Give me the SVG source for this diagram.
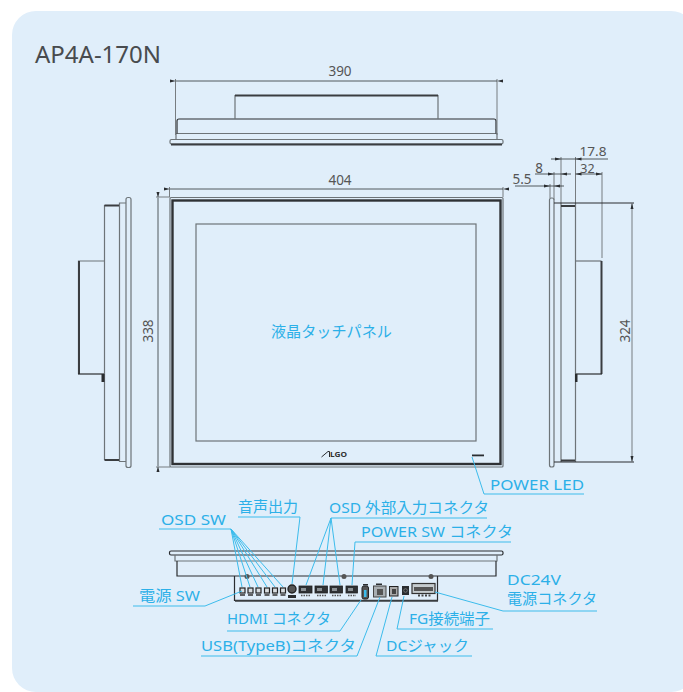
<svg xmlns="http://www.w3.org/2000/svg" width="683" height="692" viewBox="0 0 683 692">
<style>
text{font-family:"Noto Sans","Noto Sans CJK JP",sans-serif}
.lab{fill:#2cb0e8;font-size:15px}
.dim{fill:#555;font-size:13.500px}
.sm{font-size:12.500px}
.g{fill:none;stroke:#6d7478;stroke-width:1.200}
.k{fill:none;stroke:#2a2d30;stroke-width:1.200}
.kk{fill:none;stroke:#3a3d40;stroke-width:2}
.d{fill:none;stroke:#2f3235;stroke-width:.8}
.e{fill:none;stroke:#777c80;stroke-width:1}
.b{fill:none;stroke:#3cbcec;stroke-width:1}
.p{fill:#2a2d30}
.sw{fill:#d8dde0;stroke:#222;stroke-width:1.200}
.con{fill:#2e3134;stroke:#222;stroke-width:.8}
.ins{fill:#8a9094}
</style>
<defs>
<marker id="ah" viewBox="0 0 6 4" refX="0" refY="2" markerWidth="6" markerHeight="4" markerUnits="userSpaceOnUse" orient="auto-start-reverse"><path d="M0 2L6 .5V3.500Z" fill="#2a2d30"/></marker>
</defs>
<rect x="12" y="11" width="683" height="681" rx="24" fill="#e0eefa"/>
<text x="35" y="63" font-size="23" fill="#484b4e" textLength="126" lengthAdjust="spacingAndGlyphs">AP4A-170N</text>

<g id="top-view">
<rect class="g" x="170" y="139.500" width="333" height="4.500" rx="1.500"/>
<path class="kk" d="M171 144.500H502"/>
<path class="g" d="M176 139V133.500H497V139"/>
<path class="k" d="M177 133.500V121Q177 119 179 119H494Q496 119 496 121V133.500"/>
<path class="g" d="M235 119V95M438 119V95"/>
<path class="kk" d="M235 95.500H438"/>
</g>

<g id="front-view">
<rect class="g" x="170" y="197.500" width="333" height="269.500" rx="1"/>
<rect x="172.500" y="200.500" width="328" height="263.500" fill="none" stroke="#2f3235" stroke-width="2.400"/>
<rect class="g" x="196" y="224" width="280" height="217"/>
<text class="lab" x="271" y="337" textLength="121" lengthAdjust="spacingAndGlyphs">液晶タッチパネル</text>
<g id="logo"><path d="M321.500 457L328 451.500H329.500V457" fill="none" stroke="#2a2d30" stroke-width="1"/><text x="330" y="457" font-size="6.500" font-weight="700" fill="#333" textLength="17" lengthAdjust="spacingAndGlyphs">LGO</text></g>
<rect x="472" y="454.500" width="12" height="1.800" fill="#2a2d30"/>
</g>

<g id="left-view">
<rect class="g" x="126" y="197.500" width="5" height="270" rx="2"/>
<path class="g" d="M126 203H119.500V461.500H126"/>
<path class="g" d="M104.500 205V460"/>
<path class="kk" d="M104.500 205.500H119M104.500 460H119"/>
<path class="g" d="M104 261H78.500V374"/>
<path class="kk" d="M79 261V374"/>
<path class="k" d="M78 374H104"/>
<rect class="p" x="101.500" y="374" width="3" height="8"/>
</g>

<g id="right-view">
<rect class="g" x="549.500" y="198" width="4.500" height="269" rx="2"/>
<path class="g" d="M561 203V462M575.500 203V462"/>
<path class="kk" d="M561 206H575M561 460.500H575"/>
<path class="g" d="M575.500 261H601.500"/>
<path class="kk" d="M601.500 261V374"/>
<path class="k" d="M575.500 374H602"/>
<rect class="p" x="575" y="374" width="2.500" height="8"/>
</g>

<g id="bottom-view">
<rect class="k" x="169.500" y="551" width="333.500" height="4" rx="1.500"/>
<path class="g" d="M175 555V561H497V555"/>
<path class="k" d="M177 561V576H496V561"/>
<path class="k" d="M234.500 576V600.500H437.500V576"/>
<path class="kk" d="M235 600.800H438"/>
<g fill="#555"><circle cx="247" cy="576.500" r="2.500"/><circle cx="344" cy="576.500" r="2.500"/><circle cx="431" cy="576.500" r="2.500"/></g>
</g>

<g id="ports">
<rect class="sw" x="240" y="588" width="5" height="5"/><rect class="sw" x="248" y="588" width="5" height="5"/><rect class="sw" x="256" y="588" width="5" height="5"/><rect class="sw" x="264.500" y="588" width="5" height="5"/><rect class="sw" x="272.500" y="588" width="5" height="5"/><rect class="sw" x="280.500" y="588" width="5" height="5"/>
<path d="M240 595H245M248 595H253M256 595H261M264.500 595H269.500M272.500 595H277.500M280.500 595H285.500" stroke="#333" stroke-width="1.500"/>
<circle cx="292" cy="589" r="4" fill="#555" stroke="#222" stroke-width="1.400"/>
<rect class="p" x="288" y="595" width="8" height="3"/>
<rect class="con" x="299" y="586" width="13" height="7"/><rect class="con" x="315" y="586" width="12.500" height="7"/><rect class="con" x="330" y="586" width="12.500" height="7"/><rect class="con" x="346" y="586" width="11.500" height="7"/>
<rect class="ins" x="301" y="588" width="5" height="3"/><rect class="ins" x="317" y="588" width="5" height="3"/><rect class="ins" x="332" y="588" width="5" height="3"/><rect class="ins" x="348" y="588" width="5" height="3"/>
<path d="M301 595.500H310M317 595.500H326M332 595.500H341M348 595.500H356" stroke="#555" stroke-width="1.500" stroke-dasharray="1.500 1"/>
<rect x="362" y="586" width="6.500" height="13" rx="2" fill="#555" stroke="#222"/><rect x="364" y="590" width="2.500" height="7" fill="#3cbcec"/><rect class="p" x="363" y="584" width="5" height="1.500"/>
<rect x="373.500" y="586" width="12.500" height="11" fill="#a8aeb2" stroke="#444"/><rect x="377" y="589" width="6" height="6" fill="#555"/><rect class="p" x="376" y="583.500" width="6" height="1.500"/>
<rect x="389.500" y="586.500" width="8.500" height="9.500" fill="#aaa" stroke="#222"/><rect x="392" y="589" width="4" height="5" fill="#444"/>
<rect x="402" y="586" width="7" height="9" fill="#2a2d30"/><circle cx="405.500" cy="590.500" r="1.800" fill="none" stroke="#999" stroke-width=".6"/>
<rect x="412" y="583.500" width="23" height="10" fill="#c5cbce" stroke="#333" stroke-width="1.200"/><rect x="414" y="587" width="19" height="4" fill="#555"/><path d="M418 595.500H431" stroke="#444" stroke-width="2" stroke-dasharray="2 1.500"/>
</g>

<g id="dimensions">
<path class="e" d="M175.500 79V135M497 79V135M169.500 187V197M503 187V197M156 197H170M156 467H170"/>
<path class="d" d="M176 81H497" marker-start="url(#ah)" marker-end="url(#ah)"/>
<path class="d" d="M170 189H503" marker-start="url(#ah)" marker-end="url(#ah)"/>
<path class="d" d="M158 198V466" marker-start="url(#ah)" marker-end="url(#ah)"/>
<path class="e" d="M561 157V203M575.500 157V203M554 172V200M602 172V258M550 184V198"/>
<path class="d" d="M551 159H608M535 174H571M575.500 174H602M515 186H564"/>
<path class="p" d="M561 159l-6-1.500v3zM575.500 159l6-1.500v3zM554 174l-6-1.500v3zM561 174l6-1.500v3zM575.500 174l6-1.500v3zM602 174l-6-1.500v3zM550 186l-6-1.500v3zM554 186l6-1.500v3z"/>
<path class="k" d="M554 203H634M554 462H634"/>
<path class="e" d="M632 203V462"/>
<path class="p" d="M632 203l-1.500 6h3zM632 462l-1.500-6h3z"/>
<text class="dim" x="340" y="76" text-anchor="middle">390</text>
<text class="dim" x="340" y="184.500" text-anchor="middle">404</text>
<text class="dim" x="0" y="0" text-anchor="middle" transform="translate(153 331) rotate(-90)">338</text>
<text class="dim" x="0" y="0" text-anchor="middle" transform="translate(630 331) rotate(-90)">324</text>
<text class="dim sm" x="593" y="156" text-anchor="middle" textLength="27" lengthAdjust="spacingAndGlyphs">17.8</text>
<text class="dim" x="539" y="172.500" text-anchor="middle">8</text>
<text class="dim sm" x="587.500" y="173" text-anchor="middle">32</text>
<text class="dim" x="522" y="183.500" text-anchor="middle">5.5</text>
</g>

<g id="connectors">
<path class="b" d="M484 494H584M484 494L472 457"/>
<path class="b" d="M159 529H231M231 529L242 587M231 529L250 587M231 529L258 587M231 529L267 587M231 529L275 587M231 529L283 587"/>
<path class="b" d="M238 517H300L292 584"/>
<path class="b" d="M487 518H331M331 518L306 585M331 518L323 585M331 518L340 585"/>
<path class="b" d="M511 542H355L352 585"/>
<path class="b" d="M133 606H205L242 591"/>
<path class="b" d="M227 631H340L361 600"/>
<path class="b" d="M201 656H357L380 597"/>
<path class="b" d="M472 656H376L392 597"/>
<path class="b" d="M493 629H397L404 596"/>
<path class="b" d="M597 611H503L435 592"/>
</g>

<g id="labels">
<text class="lab" x="490" y="490" textLength="94" lengthAdjust="spacingAndGlyphs">POWER LED</text>
<text class="lab" x="161" y="525" textLength="65" lengthAdjust="spacingAndGlyphs">OSD SW</text>
<text class="lab" x="238" y="512" textLength="60" lengthAdjust="spacingAndGlyphs">音声出力</text>
<text class="lab" x="329" y="513" textLength="160" lengthAdjust="spacingAndGlyphs">OSD 外部入力コネクタ</text>
<text class="lab" x="361" y="537" textLength="152" lengthAdjust="spacingAndGlyphs">POWER SW コネクタ</text>
<text class="lab" x="139" y="601" textLength="61" lengthAdjust="spacingAndGlyphs">電源 SW</text>
<text class="lab" x="227" y="624" textLength="104" lengthAdjust="spacingAndGlyphs">HDMI コネクタ</text>
<text class="lab" x="201" y="651" textLength="155" lengthAdjust="spacingAndGlyphs">USB(TypeB)コネクタ</text>
<text class="lab" x="386" y="651" textLength="83" lengthAdjust="spacingAndGlyphs">DCジャック</text>
<text class="lab" x="409" y="624" textLength="81" lengthAdjust="spacingAndGlyphs">FG接続端子</text>
<text class="lab" x="507" y="585" textLength="54" lengthAdjust="spacingAndGlyphs">DC24V</text>
<text class="lab" x="507" y="604" textLength="90" lengthAdjust="spacingAndGlyphs">電源コネクタ</text>
</g>
</svg>
